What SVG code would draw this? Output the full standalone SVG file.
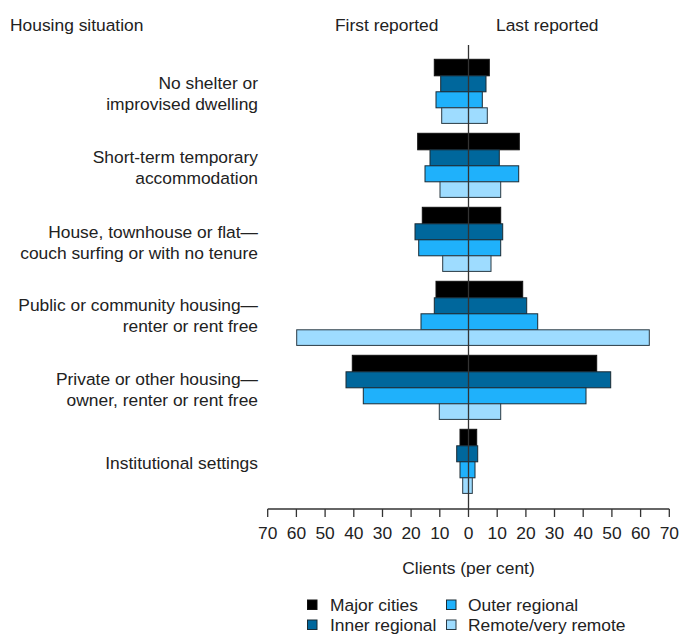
<svg xmlns="http://www.w3.org/2000/svg" width="682" height="636" viewBox="0 0 682 636">
<style>
text{font-family:"Liberation Sans",Arial,sans-serif;font-size:17.4px;fill:#222}
.lab{text-anchor:end}
.tk{text-anchor:middle}
.mc{fill:#000;stroke:#111;stroke-width:1}
.ir{fill:#00679c;stroke:#1a2a33;stroke-width:1}
.or{fill:#1fb1fb;stroke:#1a2a33;stroke-width:1}
.rv{fill:#9edcff;stroke:#2a3a44;stroke-width:1}
.ax{stroke:#333;stroke-width:1.3;fill:none}
</style>
<rect width="682" height="636" fill="#fff"/>
<text x="10" y="31">Housing situation</text>
<text x="335" y="31">First reported</text>
<text x="496" y="31">Last reported</text>

<g id="g1">
<text class="lab" x="258" y="89">No shelter or</text>
<text class="lab" x="258" y="110">improvised dwelling</text>
<rect class="mc" x="434.3" y="59.3" width="55" height="16.5"/>
<rect class="ir" x="440.7" y="75.8" width="45.3" height="16"/>
<rect class="or" x="436" y="91.8" width="46.3" height="16"/>
<rect class="rv" x="441.7" y="107.8" width="45.6" height="15.6"/>
</g>
<g id="g2">
<text class="lab" x="258" y="163">Short-term temporary</text>
<text class="lab" x="258" y="184">accommodation</text>
<rect class="mc" x="417.7" y="133.3" width="101.6" height="16.5"/>
<rect class="ir" x="430" y="149.8" width="69.3" height="16"/>
<rect class="or" x="425" y="165.8" width="93.7" height="16"/>
<rect class="rv" x="440" y="181.8" width="60.7" height="15.6"/>
</g>
<g id="g3">
<text class="lab" x="258" y="238">House, townhouse or flat—</text>
<text class="lab" x="258" y="259">couch surfing or with no tenure</text>
<rect class="mc" x="422.3" y="207.3" width="78.4" height="16.5"/>
<rect class="ir" x="415" y="223.8" width="87.7" height="16"/>
<rect class="or" x="418.7" y="239.8" width="82" height="16"/>
<rect class="rv" x="442.7" y="255.8" width="48.3" height="15.6"/>
</g>
<g id="g4">
<text class="lab" x="258" y="311">Public or community housing—</text>
<text class="lab" x="258" y="332">renter or rent free</text>
<rect class="mc" x="436" y="281.3" width="86.7" height="16.5"/>
<rect class="ir" x="434.3" y="297.8" width="92.4" height="16"/>
<rect class="or" x="421" y="313.8" width="116.7" height="16"/>
<rect class="rv" x="296.7" y="329.8" width="352.6" height="15.6"/>
</g>
<g id="g5">
<text class="lab" x="258" y="385">Private or other housing—</text>
<text class="lab" x="258" y="406">owner, renter or rent free</text>
<rect class="mc" x="352.3" y="355.3" width="244.4" height="16.5"/>
<rect class="ir" x="346" y="371.8" width="264.7" height="16"/>
<rect class="or" x="363.3" y="387.8" width="222.7" height="16"/>
<rect class="rv" x="439.3" y="403.8" width="61.4" height="15.6"/>
</g>
<g id="g6">
<text class="lab" x="258" y="469">Institutional settings</text>
<rect class="mc" x="460" y="429.3" width="16.7" height="16.5"/>
<rect class="ir" x="456.7" y="445.8" width="21" height="16"/>
<rect class="or" x="460" y="461.8" width="15" height="16"/>
<rect class="rv" x="462.7" y="477.8" width="9.6" height="15.6"/>
</g>

<g id="axis">
<line class="ax" x1="468.5" y1="45" x2="468.5" y2="509"/>
<line class="ax" x1="267.7" y1="509" x2="669.3" y2="509"/>
<path class="ax" d="M267.7 509v8M296.4 509v8M325.1 509v8M353.8 509v8M382.5 509v8M411.1 509v8M439.8 509v8M468.5 509v8M497.2 509v8M525.9 509v8M554.5 509v8M583.2 509v8M611.9 509v8M640.6 509v8M669.3 509v8"/>
<text class="tk" x="267.7" y="539">70</text>
<text class="tk" x="296.4" y="539">60</text>
<text class="tk" x="325.1" y="539">50</text>
<text class="tk" x="353.8" y="539">40</text>
<text class="tk" x="382.5" y="539">30</text>
<text class="tk" x="411.1" y="539">20</text>
<text class="tk" x="439.8" y="539">10</text>
<text class="tk" x="468.5" y="539">0</text>
<text class="tk" x="497.2" y="539">10</text>
<text class="tk" x="525.9" y="539">20</text>
<text class="tk" x="554.5" y="539">30</text>
<text class="tk" x="583.2" y="539">40</text>
<text class="tk" x="611.9" y="539">50</text>
<text class="tk" x="640.6" y="539">60</text>
<text class="tk" x="669.3" y="539">70</text>
<text class="tk" x="468.5" y="574">Clients (per cent)</text>
</g>

<g id="legend">
<rect class="mc" x="307.5" y="600" width="9.5" height="9.5"/>
<text x="330" y="611">Major cities</text>
<rect class="or" x="446.5" y="600" width="9.5" height="9.5"/>
<text x="468" y="611">Outer regional</text>
<rect class="ir" x="307.5" y="620" width="9.5" height="9.5"/>
<text x="330" y="631">Inner regional</text>
<rect class="rv" x="446.5" y="620" width="9.5" height="9.5"/>
<text x="468" y="631">Remote/very remote</text>
</g>
</svg>
